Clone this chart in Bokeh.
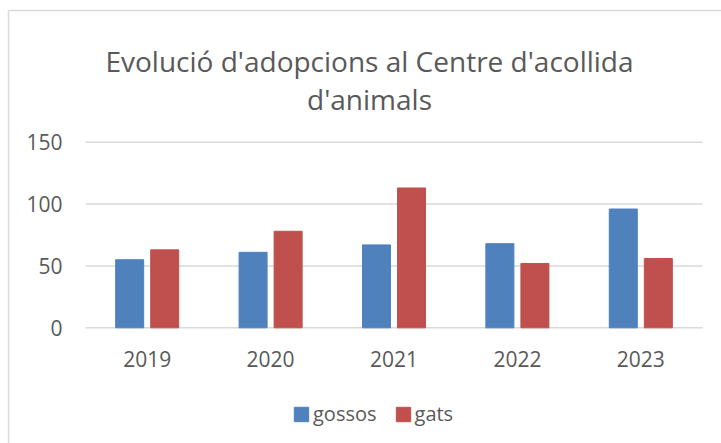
from bokeh.plotting import figure
from bokeh.models import Range1d, Legend, LegendItem, ColumnDataSource
from bokeh.core.properties import value
from bokeh.transform import dodge
from bokeh.embed import file_html
from bokeh.resources import INLINE

# ---- data ----
years = ["2019", "2020", "2021", "2022", "2023"]
gossos = [55, 61, 67, 68, 96]
gats = [63, 78, 113, 52, 56]
series_names = ["gossos", "gats"]
y_ticks = [0, 50, 100, 150]
title_lines = ["Evolució d'adopcions al Centre d'acollida", "d'animals"]

# ---- style ----
BLUE = "#4F81BD"
RED = "#C0504D"
TXT = "#595959"
GRID = "#d9d9d9"
FONT = "Open Sans"

# ---- layout (pixels) ----
W, H = 721, 443
PLOT_L, PLOT_R = 85, 702
Y0_PX, YTOP_PX = 327.3, 141.7
ncat = len(years)
px_per_x = (PLOT_R - PLOT_L) / ncat
px_per_y = (Y0_PX - YTOP_PX) / (y_ticks[-1] - y_ticks[0])


def X(px):
    return (px - PLOT_L) / px_per_x


def Y(py):
    return (Y0_PX - py) / px_per_y


cx = [i + 0.5 for i in range(ncat)]
src = ColumnDataSource(dict(years=years, cx=cx, gossos=gossos, gats=gats))

p = figure(x_range=Range1d(X(0), X(W)), y_range=Range1d(Y(H), Y(0)),
           width=W, height=H, output_backend="svg", toolbar_location=None,
           title=None, x_axis_location=None, y_axis_location=None, min_border=0)
p.outline_line_color = None
p.xgrid.visible = False
p.ygrid.visible = False

# chart border (left and top)
p.segment(x0=[X(8), X(8)], y0=[Y(10), Y(10)], x1=[X(8), X(W)], y1=[Y(H), Y(10)],
          line_color=GRID, line_width=1.5)

# gridlines
p.segment(x0=0, x1=ncat, y0=y_ticks, y1=y_ticks, line_color=GRID, line_width=1.5)

# bars
r1 = p.vbar(x=dodge("cx", -0.142), top="gossos", width=0.227, source=src,
            fill_color=BLUE, line_color=BLUE)
r2 = p.vbar(x=dodge("cx", 0.142), top="gats", width=0.227, source=src,
            fill_color=RED, line_color=RED)

# y tick labels
p.text(x=[X(62)] * len(y_ticks), y=y_ticks, text=[str(t) for t in y_ticks],
       text_align="right", text_baseline="middle", text_font=value(FONT),
       text_font_size="21px", text_color=TXT)

# x tick labels
p.text(x="cx", y=Y(358.5), text="years", source=src, text_align="center",
       text_baseline="middle", text_font=value(FONT), text_font_size="21px",
       text_color=TXT)

# title
p.text(x=[X(369)] * len(title_lines), y=[Y(60), Y(98)], text=title_lines,
       text_align="center", text_baseline="alphabetic", text_font=value(FONT),
       text_font_size="28px", text_color=TXT)

legend = Legend(items=[LegendItem(label=series_names[0], renderers=[r1]),
                       LegendItem(label=series_names[1], renderers=[r2])],
                orientation="horizontal", location=(292, 16), padding=0, margin=0,
                spacing=17, label_standoff=3, glyph_width=18, glyph_height=18,
                label_height=18, border_line_color=None, background_fill_alpha=0,
                label_text_font=FONT, label_text_font_size="20px",
                label_text_color=TXT, label_text_baseline="middle")
p.add_layout(legend)

open("out.html", "w").write(file_html(p, INLINE))
